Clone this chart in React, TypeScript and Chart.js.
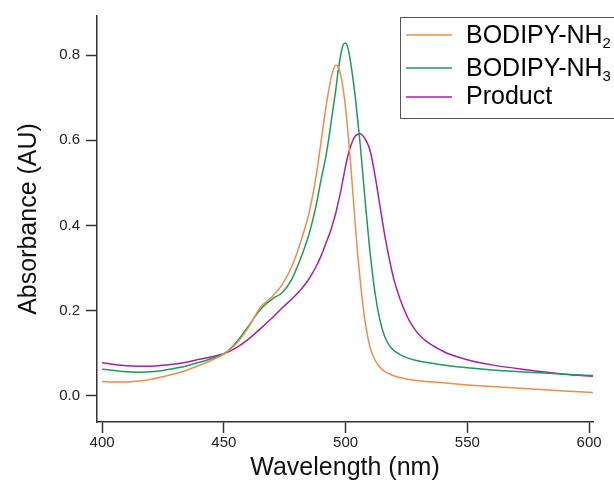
import React, { useEffect, useRef } from "react";
import { Chart, registerables } from "chart.js";

Chart.register(...registerables);

const wavelengths = [400, 405, 410, 415, 420, 425, 430, 435, 440, 445, 450, 455, 460, 465, 470, 474, 478, 482, 485, 488, 490, 492, 494, 495, 496, 497, 498, 499, 500, 501, 502, 503, 504, 505, 506, 507, 508, 510, 512, 514, 516, 518, 520, 525, 530, 540, 550, 560, 575, 590, 602];

const nh2 = [0.034, 0.033, 0.033, 0.035, 0.039, 0.045, 0.052, 0.061, 0.072, 0.084, 0.098, 0.122, 0.16, 0.208, 0.234, 0.262, 0.305, 0.37, 0.43, 0.52, 0.6, 0.68, 0.745, 0.766, 0.776, 0.772, 0.752, 0.72, 0.675, 0.615, 0.55, 0.475, 0.4, 0.33, 0.27, 0.218, 0.175, 0.115, 0.085, 0.068, 0.058, 0.052, 0.047, 0.04, 0.036, 0.031, 0.026, 0.022, 0.017, 0.012, 0.008];

const nh3 = [0.063, 0.06, 0.057, 0.056, 0.057, 0.06, 0.065, 0.071, 0.079, 0.088, 0.099, 0.125, 0.163, 0.203, 0.228, 0.243, 0.275, 0.33, 0.38, 0.45, 0.51, 0.565, 0.64, 0.68, 0.72, 0.765, 0.8, 0.824, 0.828, 0.815, 0.785, 0.745, 0.7, 0.645, 0.59, 0.525, 0.46, 0.34, 0.245, 0.18, 0.14, 0.118, 0.106, 0.09, 0.082, 0.073, 0.066, 0.061, 0.056, 0.051, 0.048];

const product = [0.078, 0.074, 0.071, 0.07, 0.07, 0.072, 0.075, 0.08, 0.086, 0.092, 0.099, 0.113, 0.133, 0.158, 0.184, 0.207, 0.228, 0.252, 0.275, 0.305, 0.33, 0.36, 0.39, 0.41, 0.43, 0.455, 0.48, 0.51, 0.54, 0.565, 0.585, 0.6, 0.61, 0.614, 0.615, 0.611, 0.603, 0.577, 0.52, 0.45, 0.38, 0.32, 0.27, 0.19, 0.145, 0.105, 0.085, 0.073, 0.061, 0.051, 0.046];

const seriesNames = ["BODIPY-NH", "BODIPY-NH", "Product"];
const seriesSubs = ["2", "3", ""];
const seriesColors = ["#EA8F50", "#1F9A5C", "#A620A6"];
const xTicks = [400, 450, 500, 550, 600];
const yTicks = [0.0, 0.2, 0.4, 0.6, 0.8];

const FONT = "'Liberation Sans', Arial, Helvetica, sans-serif";

const legendPlugin = {
  id: "customLegend",
  afterDraw(chart: any) {
    const ctx = chart.ctx;
    ctx.save();
    const bx = 400.5, by = 17.5, bw = 240, bh = 101;
    ctx.fillStyle = "#ffffff";
    ctx.fillRect(bx, by, bw, bh);
    ctx.strokeStyle = "#555555";
    ctx.lineWidth = 1;
    ctx.strokeRect(bx, by, bw, bh);
    const lineYs = [35, 68, 97];
    const baseYs = [43, 76, 104];
    for (let i = 0; i < seriesNames.length; i++) {
      ctx.strokeStyle = seriesColors[i];
      ctx.lineWidth = 1.3;
      ctx.beginPath();
      ctx.moveTo(406, lineYs[i]);
      ctx.lineTo(452, lineYs[i]);
      ctx.stroke();
      ctx.fillStyle = "#000000";
      ctx.textBaseline = "alphabetic";
      ctx.textAlign = "left";
      ctx.font = `25px ${FONT}`;
      ctx.fillText(seriesNames[i], 466, baseYs[i]);
      if (seriesSubs[i]) {
        const w = ctx.measureText(seriesNames[i]).width;
        ctx.font = `15px ${FONT}`;
        ctx.fillText(seriesSubs[i], 466 + w, baseYs[i] + 5);
      }
    }
    ctx.restore();
  },
};

export default function App() {
  const ref = useRef<HTMLCanvasElement | null>(null);
  useEffect(() => {
    if (!ref.current) return;
    Chart.defaults.font.family = FONT;
    const mk = (vals: number[], i: number) => ({
      label: seriesNames[i] + seriesSubs[i],
      data: wavelengths.map((w, k) => ({ x: w, y: vals[k] })),
      borderColor: seriesColors[i],
      backgroundColor: seriesColors[i],
      borderWidth: 1.5,
      pointRadius: 0,
      cubicInterpolationMode: "monotone" as const,
      fill: false,
    });
    const chart = new Chart(ref.current, {
      type: "line",
      data: { datasets: [mk(nh2, 0), mk(nh3, 1), mk(product, 2)] },
      options: {
        animation: false,
        responsive: false,
        maintainAspectRatio: false,
        layout: { padding: { top: 16, right: 21, left: 0, bottom: 0 } },
        plugins: { legend: { display: false }, tooltip: { enabled: false } },
        scales: {
          x: {
            type: "linear",
            min: 397.9,
            max: 601.6,
            afterFit: (s: any) => { s.height = 61; },
            afterBuildTicks: (s: any) => { s.ticks = xTicks.map((v) => ({ value: v })); },
            ticks: { font: { size: 15 }, color: "#222", padding: 1, maxRotation: 0, callback: (v: any) => String(v) },
            grid: { drawOnChartArea: false, drawTicks: true, tickLength: 11, tickColor: "#333", tickWidth: 1.5 },
            border: { color: "#333", width: 1.5 },
            title: { display: true, text: "Wavelength (nm)", font: { size: 25 }, color: "#111", padding: { top: 0, bottom: 0 } },
          },
          y: {
            type: "linear",
            min: -0.061,
            max: 0.8915,
            afterFit: (s: any) => { s.width = 97; },
            afterBuildTicks: (s: any) => { s.ticks = yTicks.map((v) => ({ value: v })); },
            ticks: { font: { size: 15 }, color: "#222", padding: 6, callback: (v: any) => Number(v).toFixed(1) },
            grid: { drawOnChartArea: false, drawTicks: true, tickLength: 11, tickColor: "#333", tickWidth: 1.5 },
            border: { color: "#333", width: 1.5 },
            title: { display: true, text: "Absorbance (AU)", font: { size: 25 }, color: "#111", padding: { top: 14, bottom: 0 } },
          },
        },
      },
      plugins: [legendPlugin],
    });
    return () => chart.destroy();
  }, []);
  return (
    <div style={{ position: "fixed", left: 0, top: 0, width: 614, height: 483, background: "#fff" }}>
      <canvas ref={ref} width={614} height={483} style={{ width: 614, height: 483, display: "block" }} />
    </div>
  );
}
